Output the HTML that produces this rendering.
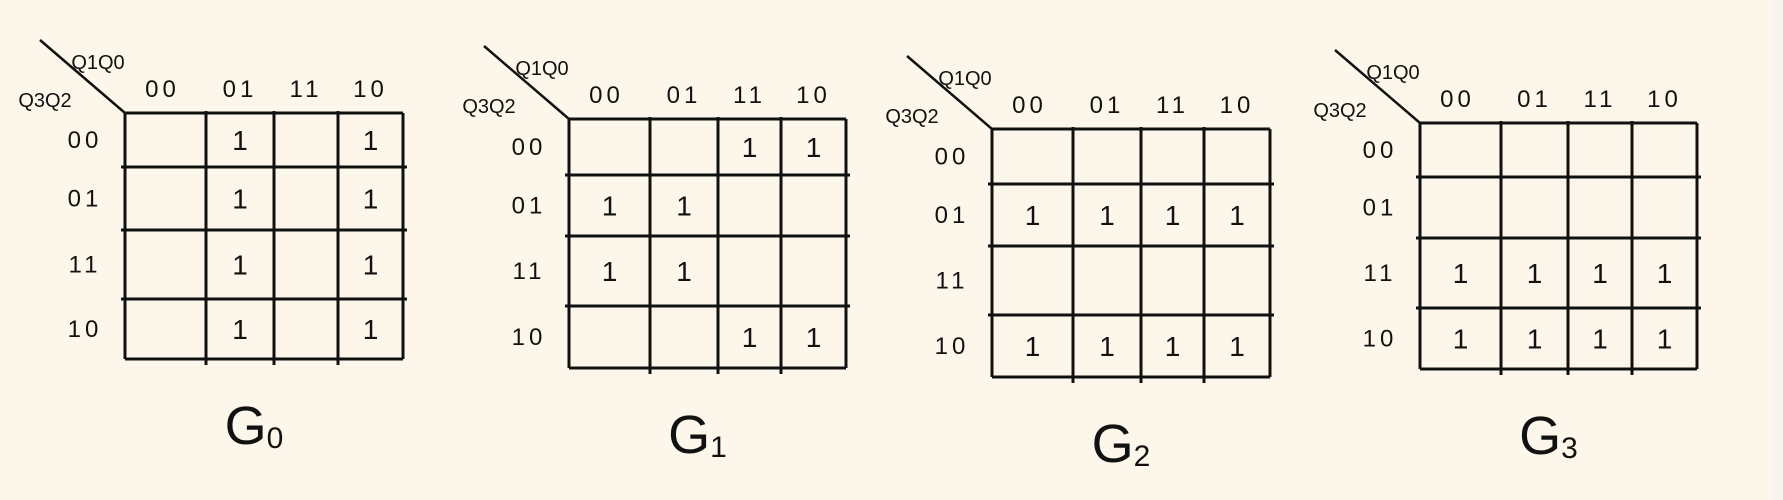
<!DOCTYPE html>
<html><head><meta charset="utf-8"><style>
html,body{margin:0;padding:0;background:#fcf7ea;}
svg{display:block;}
text{font-family:"Liberation Sans",sans-serif;fill:#111;}
</style></head><body>
<svg id="chart" width="1783" height="500" viewBox="0 0 1783 500">
<rect x="0" y="0" width="1783" height="500" fill="#fcf7ea"/>
<rect x="1772" y="0" width="11" height="500" fill="#f7f5f0"/>
</svg>
<script>
const mapTitles = ["G0","G1","G2","G3"];
const colLabels = ["00","01","11","10"];
const rowLabels = ["00","01","11","10"];
// cell values per map, rows (Q3Q2) x columns (Q1Q0)
const g0Values = [[0,1,0,1],[0,1,0,1],[0,1,0,1],[0,1,0,1]];
const g1Values = [[0,0,1,1],[1,1,0,0],[1,1,0,0],[0,0,1,1]];
const g2Values = [[0,0,0,0],[1,1,1,1],[0,0,0,0],[1,1,1,1]];
const g3Values = [[0,0,0,0],[0,0,0,0],[1,1,1,1],[1,1,1,1]];
const allValues = [g0Values,g1Values,g2Values,g3Values];

const layouts = [
 {xs:[125,206,274,338,403], ys:[113,167,230,299,359]},
 {xs:[569,650,718,781,846], ys:[119,175,236,306,368]},
 {xs:[992,1073,1141,1204,1270], ys:[129,184,246,315,377]},
 {xs:[1420,1501,1568,1632,1697], ys:[123,177,238,308,369]}
];
const NS="http://www.w3.org/2000/svg";
const svg=document.getElementById('chart');
function mk(tag,attrs,parent){const e=document.createElementNS(NS,tag);for(const k in attrs)e.setAttribute(k,attrs[k]);(parent||svg).appendChild(e);return e;}

layouts.forEach((L,m)=>{
  const g=mk('g',{});
  
  
  const x0=L.xs[0],x4=L.xs[4],y0=L.ys[0],y4=L.ys[4];
  const d=mk('line',{x1:x0-85,y1:y0-73,x2:x0,y2:y0,stroke:'#111','stroke-width':2.5},g);
  
  
  L.xs.forEach((x,i)=>{
    const l=mk('line',{x1:x,y1:y0-(i>0&&i<4?2:0),x2:x,y2:y4+(i>0&&i<4?6:0),stroke:'#111','stroke-width':3},g);
    
    
  });
  L.ys.forEach((y,i)=>{
    const l=mk('line',{x1:x0-(i>0&&i<4?4:0),y1:y,x2:x4+(i>0&&i<4?4:0),y2:y,stroke:'#111','stroke-width':3},g);
    
    
  });
  const t1=mk('text',{x:x0-27,y:y0-44,'font-size':20,'text-anchor':'middle'},g);
  t1.textContent='Q1Q0';
  
  
  const t2=mk('text',{x:x0-80,y:y0-6,'font-size':20,'text-anchor':'middle'},g);
  t2.textContent='Q3Q2';
  
  
  colLabels.forEach((c,i)=>{
    const t=mk('text',{x:(L.xs[i]+L.xs[i+1])/2+(i==0?-3:0),y:y0-16,'font-size':24,'text-anchor':'middle','letter-spacing':4},g);
    t.textContent=c;
    
    
  });
  rowLabels.forEach((r,i)=>{
    const t=mk('text',{x:x0-40,y:(L.ys[i]+L.ys[i+1])/2+8,'font-size':24,'text-anchor':'middle','letter-spacing':4},g);
    t.textContent=r;
    
    
  });
  allValues[m].forEach((row,ri)=>row.forEach((v,ci)=>{
    if(!v)return;
    const t=mk('text',{x:(L.xs[ci]+L.xs[ci+1])/2,y:(L.ys[ri]+L.ys[ri+1])/2+10,'font-size':28,'text-anchor':'middle'},g);
    t.textContent='1';
    
    
  }));
  const tt=mk('text',{x:(x0+x4)/2-10,y:y4+85,'font-size':54,'text-anchor':'middle'},g);
  tt.textContent='G';
  const sub=mk('tspan',{'font-size':30,dy:4},tt);
  sub.textContent=mapTitles[m].slice(1);
  
  
});
</script>
</body></html>
